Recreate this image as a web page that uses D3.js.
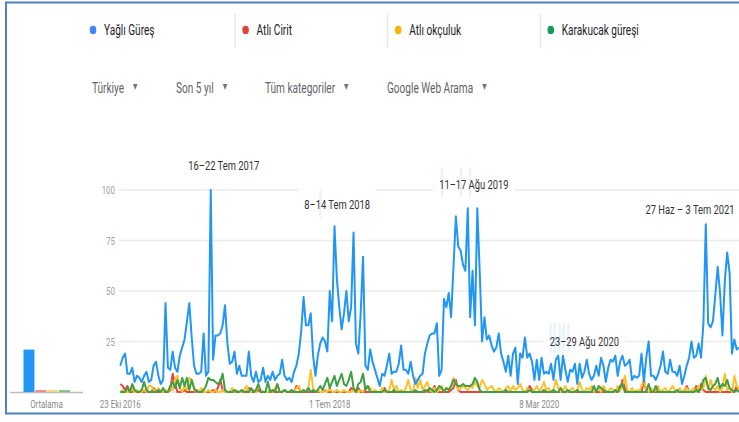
<!DOCTYPE html>
<html><head><meta charset="utf-8">
<script src="https://cdn.jsdelivr.net/npm/d3@7"></script>
<style>
html,body{margin:0;padding:0;background:#fff;}
svg{display:block;}
text{font-family:Roboto,"Noto Sans",sans-serif;}
</style></head><body>
<svg id="chart" width="739" height="422"></svg>
<script>
// ---------------- DATA ----------------
const seriesNames = ["Yağlı Güreş","Atlı Cirit","Atlı okçuluk","Karakucak güreşi"];
const filterLabels = ["Türkiye","Son 5 yıl","Tüm kategoriler","Google Web Arama"];
const firstWeek = "2016-10-23";
const yTickValues = [25,50,75,100];
const xTickDates = ["2016-10-23","2018-07-01","2020-03-08"];
const xTickLabels = ["23 Eki 2016","1 Tem 2018","8 Mar 2020"];
const averageLabel = "Ortalama";
const averages = [21,1,1,1];
const annotTexts = ["16–22 Tem 2017","8–14 Tem 2018","11–17 Ağu 2019","23–29 Ağu 2020","27 Haz – 3 Tem 2021"];
const annotDates = ["2017-07-16","2018-07-08","2019-08-11","2020-08-23","2021-06-27"];

const yagliGures = [
13,17,19,9,9,12,5,8,7,5,
8,10,5,6,13,15,8,4,6,44,
12,11,20,12,10,18,22,26,35,44,
27,13,9,9,10,29,8,10,100,16,
28,28,29,33,43,24,14,15,20,9,
13,8,8,8,20,8,5,10,5,6,
12,5,8,6,10,6,8,9,16,8,
6,7,5,10,13,19,30,47,33,33,
39,18,8,18,24,27,25,20,50,35,
82,56,42,31,39,50,35,42,79,24,
19,39,67,13,11,21,15,11,7,3,
9,8,13,19,9,10,10,14,23,11,
11,9,15,8,4,6,8,9,19,24,
28,29,29,34,8,11,46,42,49,37,
62,87,72,70,63,60,91,37,60,33,
91,60,25,37,26,28,23,20,22,29,
19,15,10,18,8,19,22,4,19,17,
27,
17,19,15,6,16,6,17,9,10,9,14,6,16,18,6,18,11,5,11,10,14,4,14,7,10,16,9,6,8,13,8,17,13,5,12,16,15,18,8,15,18,13,14,
16,6,8,7,8,19,5,17,25,8,8,6,9,13,20,10,9,16,10,10,8,13,4,8,13,17,25,17,18,24,17,34,83,34,32,35,48,62,49,28,55,69,59,19,26,21,22];

const atliCirit = [
4,3,1,3,0,0,1,0,0,0,
0,0,0,0,2,0,0,0,0,0,
0,1,9,4,0,0,0,1,0,0,
0,0,1,0,0,0,0,0,0,1,
0,2,6,1,0,0,0,0,0,0,
0,0,0,0,2,0,0,0,1,0,
0,0,0,0,0,0,0,0,0,1,
0,0,0,0,3,2,0,0,0,0,
0,0,0,0,0,0,1,0,0,0,
0,0,0,0,0,0,0,2,1,0,
2,0,0,0,0,0,0,0,0,0,
0,2,0,0,0,0,0,0,0,0,
0,0,0,0,0,0,0,0,0,1,
0,0,3,0,0,0,0,0,0,1,
2,6,1,0,0,0,0,0,0,0,
0,0,0,0,0,0,0,0,0,0,
0,0,0,0,0,0,0,0,0,0,
0,0,3,1,0,0,0,0,0,0,
0,0,0,0,0,0,0,0,0,0,
0,0,0,0,0,0,0,0,0,0,
0,0,0,0,0,0,0,0,0,0,
1,6,2,0,0,0,0,0,0,0,
6,0,0,0,0,0,0,0,0,0,
0,0,0,0,0,0,0,0,3,0,
0,0,3,0,4,1,0,0,0,0,
0,0,0,0,0,0,0,0,0,3,0];

const atliOkculuk = [
0,1,0,0,0,2,0,1,0,0,
1,0,3,3,1,0,2,0,0,1,
0,2,1,6,8,2,0,3,1,7,
6,1,0,0,2,0,0,1,0,0,
1,0,0,1,0,0,0,2,0,1,
0,0,1,3,0,0,1,0,3,1,
0,0,0,1,0,2,4,0,0,1,
0,0,1,0,2,3,0,1,0,2,
11,2,0,1,0,0,1,0,2,0,
0,1,0,0,1,0,0,0,1,0,
0,1,0,2,3,2,0,1,0,0,
2,0,0,1,6,1,3,0,1,0,
2,6,1,0,7,2,6,1,3,5,
1,0,2,0,1,3,0,2,1,3,
7,4,1,2,3,2,1,3,2,5,
3,2,6,4,1,2,3,1,0,2,
1,0,2,3,0,3,1,2,4,1,
0,2,1,0,1,3,0,2,5,1,
2,0,1,6,2,0,1,3,0,1,
2,0,1,5,1,0,2,1,3,0,
1,2,0,3,1,0,2,1,0,3,
1,2,8,1,0,2,0,1,0,3,
6,1,0,2,0,1,3,0,1,2,
0,1,3,1,0,2,0,1,2,0,
1,2,0,3,1,2,8,1,6,2,
1,3,0,2,9,1,2,0,8,3,1];

const karakucakGuresi = [
0,0,0,2,0,4,1,0,0,1,
5,1,0,0,0,0,1,0,2,0,
0,3,5,2,6,2,7,3,7,1,
6,2,0,0,0,1,3,7,6,6,
5,4,5,9,1,0,0,0,1,0,
0,1,0,0,0,2,0,1,4,0,
0,0,5,0,1,0,4,0,0,1,
0,0,1,0,0,0,0,1,0,2,
0,1,0,1,3,1,4,7,2,5,
8,3,6,9,4,3,6,10,2,0,
4,5,9,1,3,0,0,0,0,0,
0,1,0,0,0,1,0,0,0,0,
0,0,0,0,1,0,0,0,1,0,
2,1,0,1,3,2,0,2,1,3,
6,4,3,3,4,3,3,3,4,7,
5,1,0,0,0,0,0,0,0,0,
0,0,1,0,0,0,0,0,0,0,
0,0,1,0,0,0,0,0,1,0,
0,0,1,0,0,2,0,0,1,0,
0,0,1,0,0,0,0,0,0,3,
0,3,2,1,0,0,0,0,1,0,
3,4,0,0,0,0,0,0,0,0,
0,0,4,0,0,3,0,0,0,0,
0,0,0,0,1,0,0,0,0,0,
0,0,1,0,2,6,7,2,1,3,
4,7,2,4,3,6,2,1,0,1,0];

// ---------------- STYLE / LAYOUT ----------------
const lineColors = ["#2196f3","#e8453c","#fbc02d","#3f9f45"];
const dotColors  = ["#4285f4","#db4437","#f4b400","#0f9d58"];
const SX = 0.72; // horizontal squeeze of the screenshot text
const annotLayout = [{dx:13,y:170},{dx:5,y:209},{dx:6,y:189},{dx:-12,y:346},{dx:-11,y:214}];
// faint hover ghosts next to some labels: offsets from label centre (dx list, top, height)
const ghostLayout = [null,
  {dx:[-18], top:-19, h:28},
  {dx:[-33,-14,-5], top:-21, h:29},
  {dx:[-35,-31,-26,-22,-17], top:-23, h:30},
  null];

const svg = d3.select("#chart");
const parseD = d3.utcParse("%Y-%m-%d");

function addText(parent, x, y, s, o) {
  o = o || {};
  return parent.append("text")
    .attr("transform", `translate(${x},${y}) scale(${SX},1)`)
    .attr("text-anchor", o.anchor || "start")
    .attr("fill", o.fill || "#333")
    .style("font-size", (o.size || 12) + "px")
    .style("font-family", o.family || null)
    .text(s);
}

// frame
svg.append("rect").attr("x",6).attr("y",2.5).attr("width",745).attr("height",411)
  .attr("fill","none").attr("stroke","#4f81bd").attr("stroke-width",2);

// legend
const legend = svg.append("g");
seriesNames.forEach((name, i) => {
  const cx = 93 + i * 152.6;
  if (i > 0) legend.append("line").attr("x1", cx - 10.5).attr("x2", cx - 10.5)
      .attr("y1", 13).attr("y2", 48).attr("stroke", "#e0e0e0").attr("stroke-width", 1);
  legend.append("ellipse").attr("cx", cx).attr("cy", 30).attr("rx", 3.3).attr("ry", 4.2)
      .attr("fill", dotColors[i]);
  addText(legend, cx + 11, 35, name, {size: 14, fill: "#202124"});
});

// filter row
const filt = svg.append("g");
const filtX = [92, 176, 265, 387];
filterLabels.forEach((s, i) => {
  const t = addText(filt, filtX[i], 93, s, {size: 14, fill: "#5f6368"});
  const w = t.node().getComputedTextLength() * SX;
  addText(filt, filtX[i] + w + 9, 89, "▼", {size: 8, fill: "#757575", family: "DejaVu Sans"});
});

// scales
const dates = yagliGures.map((d, i) => d3.utcDay.offset(parseD(firstWeek), 7 * i));
const x = d3.scaleUtc().domain([dates[0], dates[dates.length - 1]]).range([120.3, 739.1]);
const y = d3.scaleLinear().domain([0, 100]).range([392, 190]);

// grid
const grid = svg.append("g");
grid.selectAll("line").data(yTickValues).join("line")
  .attr("x1", 119).attr("x2", 739).attr("y1", d => y(d)).attr("y2", d => y(d))
  .attr("stroke", "#ebebeb").attr("stroke-width", 1.5);
grid.append("line").attr("x1", 119).attr("x2", 739).attr("y1", y(0)).attr("y2", y(0))
  .attr("stroke", "#d6d6d6").attr("stroke-width", 1);
yTickValues.forEach(v => addText(grid, 115, y(v) + 4, String(v), {size: 11, fill: "#a0a0a0", anchor: "end"}));

// x ticks
xTickDates.forEach((d, i) => addText(svg, x(parseD(d)), 408, xTickLabels[i], {size: 11, fill: "#8a8a8a", anchor: "middle"}));

// annotation boxes (behind lines)
const annG = svg.append("g");
const ghostG = svg.append("g");
const annTextG = svg.append("g");

// average bars
const avgG = svg.append("g");
const bx = d3.scaleBand().domain(d3.range(averages.length)).range([23.5, 70]).paddingInner(0.08);
avgG.append("line").attr("x1", 10).attr("x2", 83).attr("y1", 392.5).attr("y2", 392.5)
  .attr("stroke", "#bdbdbd").attr("stroke-width", 1.5);
avgG.selectAll("rect").data(averages).join("rect")
  .attr("x", (d, i) => bx(i)).attr("width", bx.bandwidth())
  .attr("y", d => y(d)).attr("height", d => y(0) - y(d))
  .attr("fill", (d, i) => lineColors[i]).attr("opacity", (d, i) => i ? 0.6 : 1);
addText(avgG, 46.5, 408, averageLabel, {size: 11, fill: "#8a8a8a", anchor: "middle"});

// lines
const line = d3.line().x((d, i) => x(dates[i])).y(d => y(d));
const seriesData = [yagliGures, atliCirit, atliOkculuk, karakucakGuresi];
const linesG = svg.append("g");
[1, 2, 3, 0].forEach(k => {
  linesG.append("path").datum(seriesData[k]).attr("d", line)
    .attr("fill", "none").attr("stroke", lineColors[k]).attr("stroke-width", 2)
    .attr("stroke-linejoin", "round");
});

// annotations
annotTexts.forEach((s, i) => {
  const cx = x(parseD(annotDates[i])) + annotLayout[i].dx;
  const by = annotLayout[i].y;
  const t = addText(annTextG, cx, by, s, {size: 13, fill: "#333", anchor: "middle"});
  const w = t.node().getComputedTextLength() * SX;
  annG.append("rect").attr("x", cx - w / 2 - 6).attr("y", by - 21).attr("width", w + 12).attr("height", 26)
    .attr("fill", "#fff");
  const g = ghostLayout[i];
  if (g) g.dx.forEach(dx => {
    ghostG.append("rect").attr("x", cx + dx).attr("y", by + g.top).attr("width", 2.5).attr("height", g.h)
      .attr("fill", "#d9e9fa").attr("opacity", 0.55);
  });
});
</script>
</body></html>
